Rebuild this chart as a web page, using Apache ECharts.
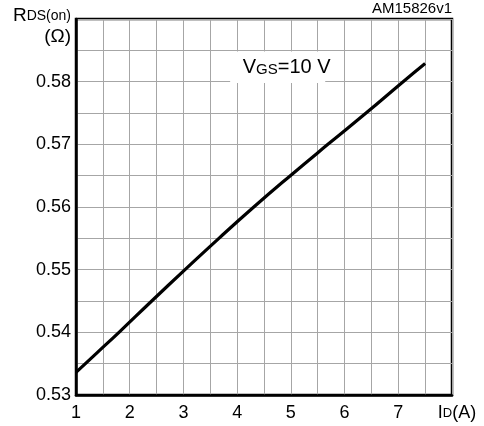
<!DOCTYPE html>
<html>
<head>
<meta charset="utf-8">
<script src="https://cdn.jsdelivr.net/npm/echarts@6/dist/echarts.min.js"></script>
<style>
html,body{margin:0;padding:0;background:#fff;}
#chart{width:484px;height:426px;}
</style>
</head>
<body>
<div id="chart"></div>
<script>
// Drain current I_D (A)
const idValues = [1.0, 1.4, 1.8, 2.41, 3.03, 3.66, 4.31, 4.99, 5.69, 6.40, 7.09, 7.5];
// On-resistance R_DS(on) (Ohm)
const rdsValues = [0.5336, 0.5368, 0.540, 0.545, 0.550, 0.555, 0.560, 0.565, 0.570, 0.575, 0.580, 0.5829];
const xTickLabels = ['1', '2', '3', '4', '5', '6', '7'];
const yTickLabels = ['0.53', '0.54', '0.55', '0.56', '0.57', '0.58'];
const annotationText = 'V{s|GS}=10 V';
const annotationBox = [[3.87, 0.5798], [5.64, 0.5848]];
const figureId = 'AM15826v1';

const FONT = 'Liberation Sans, Arial, sans-serif';
const chart = echarts.init(document.getElementById('chart'));
const points = idValues.map((x, i) => [x, rdsValues[i]]);

chart.setOption({
  animation: false,
  backgroundColor: '#fff',
  textStyle: { fontFamily: FONT },
  grid: { left: 76, right: 32, top: 19, bottom: 31, show: true, borderColor: '#000', borderWidth: 2.5, backgroundColor: 'transparent' },
  xAxis: {
    type: 'value', min: 1, max: 8, interval: 0.5,
    axisLine: { show: true, lineStyle: { color: '#000', width: 2.5 } },
    axisTick: { show: false },
    splitLine: { show: true, lineStyle: { color: '#a6a6a6', width: 1 } },
    axisLabel: {
      show: true, showMaxLabel: true, showMinLabel: true, margin: 9,
      color: '#000', fontSize: 18, fontFamily: FONT,
      formatter: function (v) {
        if (Math.abs(v - 8) < 1e-6) return '{a0|I}{b|D}{a|(A)}';
        const s = String(Math.round(v));
        if (Math.abs(v - Math.round(v)) < 1e-6 && xTickLabels.indexOf(s) >= 0) return s;
        return '';
      },
      rich: {
        a0: { fontSize: 18, color: '#000', fontFamily: FONT, padding: [0, 0, 0, 10] },
        a: { fontSize: 18, color: '#000', fontFamily: FONT },
        b: { fontSize: 13, color: '#000', fontFamily: FONT }
      }
    }
  },
  yAxis: {
    type: 'value', min: 0.53, max: 0.59, interval: 0.005,
    axisLine: { show: true, lineStyle: { color: '#000', width: 2.5 } },
    axisTick: { show: false },
    splitLine: { show: true, lineStyle: { color: '#a6a6a6', width: 1 } },
    axisLabel: {
      show: true, margin: 5, color: '#000', fontSize: 18, fontFamily: FONT,
      formatter: function (v) {
        const s = (Math.round(v * 100) / 100).toFixed(2);
        if (Math.abs(v * 100 - Math.round(v * 100)) < 1e-6 && yTickLabels.indexOf(s) >= 0) return s;
        return '';
      }
    },
    name: '{r|R}{s|DS(on)}\n{o|(Ω)}',
    nameLocation: 'end',
    nameGap: -29,
    nameTextStyle: {
      align: 'right', verticalAlign: 'bottom', padding: [0, 5, 0, 0],
      rich: {
        r: { fontSize: 19, color: '#000', fontFamily: FONT, lineHeight: 20, align: 'right' },
        s: { fontSize: 14, color: '#000', fontFamily: FONT, lineHeight: 20, align: 'right' },
        o: { fontSize: 19, color: '#000', fontFamily: FONT, lineHeight: 22, align: 'right' }
      }
    }
  },
  graphic: [
    { type: 'text', right: 32, top: 1, style: { text: figureId, fontSize: 15, fontFamily: FONT, fill: '#000' } }
  ],
  series: [{
    type: 'line',
    data: points,
    smooth: 0.5,
    showSymbol: false,
    symbol: 'none',
    lineStyle: { color: '#000', width: 3.2 },
    markArea: {
      silent: true,
      itemStyle: { color: '#fff', opacity: 1, borderWidth: 0 },
      label: {
        show: true, position: 'inside', offset: [9, 0],
        formatter: annotationText,
        color: '#000', fontSize: 20, fontFamily: FONT,
        rich: {
          s: { fontSize: 15, color: '#000', fontFamily: FONT, lineHeight: 10, verticalAlign: 'bottom' }
        }
      },
      data: [[{ coord: annotationBox[0] }, { coord: annotationBox[1] }]]
    }
  }]
});
</script>
</body>
</html>
